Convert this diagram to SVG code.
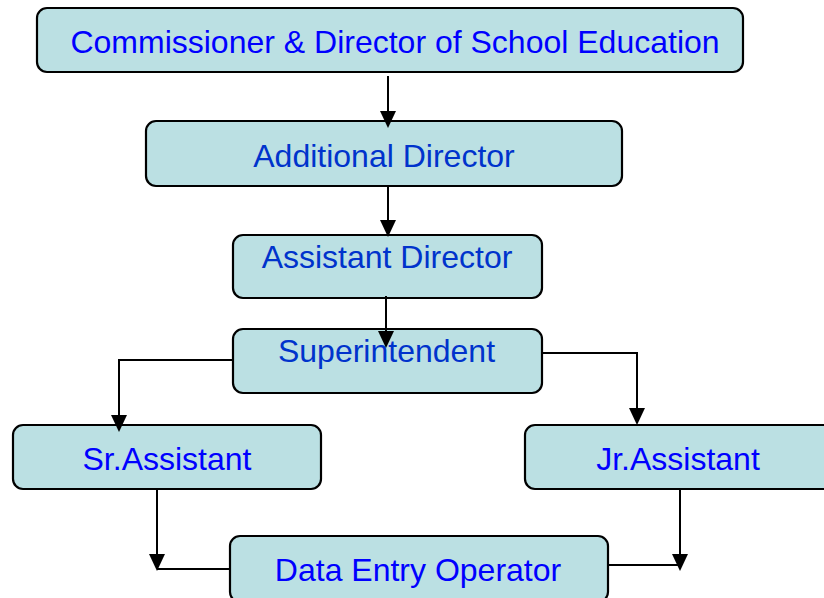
<svg xmlns="http://www.w3.org/2000/svg" width="824" height="598" viewBox="0 0 824 598">
<style>
.box{fill:#BBE0E3;stroke:#000;stroke-width:2.2}
.t{font-family:"Liberation Sans",Arial,sans-serif;font-size:32px;text-anchor:middle}
.b1{fill:#0000FF}
.b2{fill:#0033CC}
.c{fill:none;stroke:#000;stroke-width:2}
</style>
<defs>
<marker id="ah" markerUnits="userSpaceOnUse" markerWidth="18" markerHeight="18" viewBox="0 0 18 18" refX="9" refY="17" orient="auto-start-reverse">
<path d="M1,0 L17,0 L9,17 Z" fill="#000" transform="rotate(-90 9 9)"/>
</marker>
</defs>
<rect width="824" height="598" fill="#fff"/>
<g id="n1"><rect class="box" x="37" y="8" width="706" height="64" rx="10"/><text class="t b1" x="395" y="53">Commissioner &amp; Director of School Education</text></g>
<g id="n2"><rect class="box" x="146" y="121" width="476" height="65" rx="10"/><text class="t b2" x="384" y="167">Additional Director</text></g>
<g id="n3"><rect class="box" x="233" y="235" width="309" height="63" rx="10"/><text class="t b2" x="387" y="268">Assistant Director</text></g>
<g id="n4"><rect class="box" x="233" y="329" width="309" height="64" rx="10"/><text class="t b2" x="386.5" y="362">Superintendent</text></g>
<g id="n5"><rect class="box" x="13" y="425" width="308" height="64" rx="10"/><text class="t b1" x="167" y="470">Sr.Assistant</text></g>
<g id="n6"><rect class="box" x="525" y="425" width="310" height="64" rx="10"/><text class="t b1" x="678" y="470">Jr.Assistant</text></g>
<g id="n7"><rect class="box" x="230" y="536" width="378" height="66" rx="10"/><text class="t b1" x="418" y="581">Data Entry Operator</text></g>
<g id="connectors">
<path class="c" d="M388,76 V112"/>
<path class="c" d="M388,186 V222"/>
<path class="c" d="M386,296 V332"/>
<path class="c" d="M233,360 H119 V416"/>
<path class="c" d="M542,353 H637 V409"/>
<path class="c" d="M157,489 V555"/>
<path class="c" d="M157,569 H230"/>
<path class="c" d="M680,489 V555"/>
<path class="c" d="M608,565 H680"/>
<g fill="#000">
<polygon points="380,111 396,111 388,128"/>
<polygon points="380,220 396,220 388,237"/>
<polygon points="378,331 394,331 386,348"/>
<polygon points="111,415 127,415 119,432"/>
<polygon points="629,408 645,408 637,425"/>
<polygon points="149,554 165,554 157,571"/>
<polygon points="672,554 688,554 680,571"/>
</g>
</g>
</svg>
